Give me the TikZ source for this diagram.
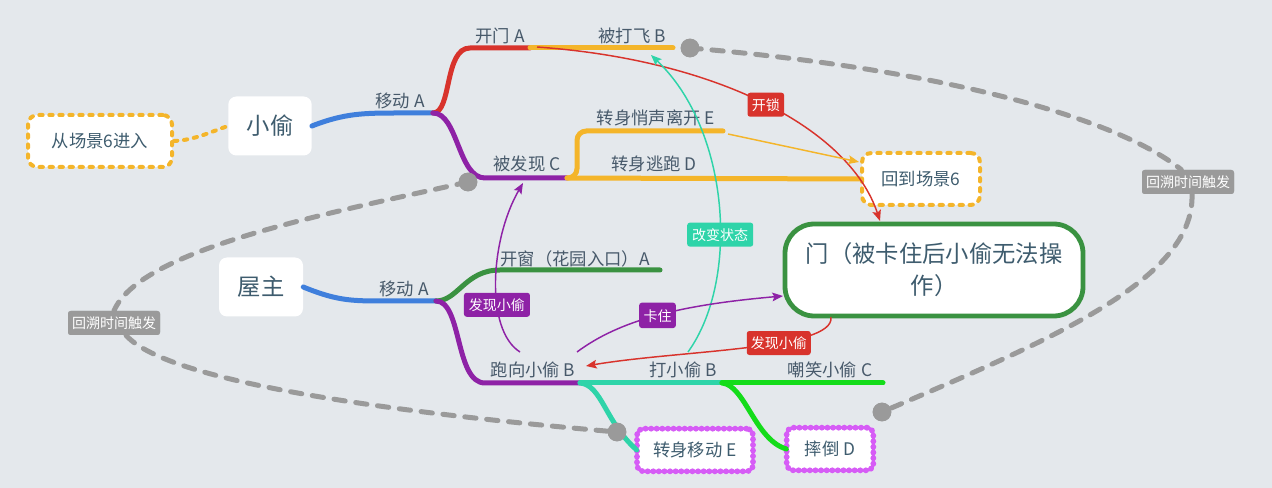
\documentclass[tikz,border=0pt]{standalone}
\usepackage{fontspec}
\setmainfont{Noto Sans CJK SC}
\usetikzlibrary{decorations.pathmorphing,arrows.meta}
\definecolor{bgc}{HTML}{E4E8EC}
\definecolor{txt}{HTML}{47596A}
\definecolor{nodetxt}{HTML}{3E5C6E}
\definecolor{tblue}{HTML}{3F7FDC}
\definecolor{tred}{HTML}{D8332C}
\definecolor{tpurple}{HTML}{8E22A6}
\definecolor{tyel}{HTML}{F4B52A}
\definecolor{tgray}{HTML}{9A9A9A}
\definecolor{tgreen}{HTML}{3A9241}
\definecolor{tteal}{HTML}{2ED4A9}
\definecolor{tlime}{HTML}{14DC1A}
\definecolor{twavy}{HTML}{D65CF6}
\newcommand{\lblfont}{\fontsize{13}{15}\selectfont}
\newcommand{\bigfont}{\fontsize{17.5}{24}\selectfont}
\newcommand{\tagfont}{\fontsize{10.5}{12}\selectfont}
\tikzset{
  lbl/.style={font=\lblfont, text=txt, inner sep=0pt},
  mainbox/.style={fill=white, rounded corners=6pt, minimum width=62.5pt, minimum height=44.25pt, font=\bigfont, text=nodetxt, inner sep=0pt},
  yelbox/.style={fill=white, draw=tyel, line width=3pt, dash pattern=on 2.5pt off 5pt, line cap=round, rounded corners=7pt, minimum height=39pt, font=\lblfont, text=nodetxt, inner sep=0pt},
  doorbox/.style={fill=white, draw=tgreen, line width=3.6pt, rounded corners=22pt, minimum width=223.5pt, minimum height=69pt, font=\bigfont, text=nodetxt, align=center, inner sep=0pt},
  wavybox/.style={fill=white, font=\lblfont, text=nodetxt, inner sep=0pt, rounded corners=5pt,
    postaction={draw=twavy, line width=2.2pt},
    postaction={draw=twavy, line width=4.4pt, line cap=round, dash pattern=on 0pt off 4.2pt}},
  branch/.style={draw=#1, line width=3.75pt, line cap=round},
  tag/.style={fill=#1, text=white, rounded corners=2pt, font=\tagfont, inner sep=0pt, minimum height=18pt, minimum width=27.5pt, text depth=0pt},
  thinarrow/.style={draw=#1, line width=1.1pt, -{Stealth[length=8pt,width=6.5pt,inset=1.5pt]}},
  gdash/.style={draw=tgray, line width=3.75pt, line cap=round, dash pattern=on 8.5pt off 8pt},
  gdot/.style={circle, fill=tgray, minimum size=14pt, inner sep=0pt},
}
\begin{document}
\begin{tikzpicture}[x=0.75pt,y=-0.75pt]
\fill[bgc] (0,0) rectangle (1272,488);
\useasboundingbox (0,0) rectangle (1272,488);

% main nodes
\node[mainbox] (thief) at (270,126) {小偷};
\node[yelbox, minimum width=108pt] (enter) at (100,141) {从场景6进入};
\node[mainbox, minimum width=63pt] (owner) at (261,287) {屋主};
\node[doorbox] (door) at (934,270) {门（被卡住后小偷无法操\\作）};
\node[yelbox, minimum width=88.5pt] (back) at (921,179) {回到场景6};
\node[wavybox, minimum width=87pt, minimum height=32pt] (turn) at (695,450) {转身移动 E};
\node[wavybox, minimum width=65pt, minimum height=32pt] (fall) at (830,449) {摔倒 D};

% junction coordinates
\coordinate (j1) at (433,113);
\coordinate (j2) at (436,301);
\coordinate (redEnd) at (530,48);
\coordinate (flyEnd) at (673,48);
\coordinate (foundEnd) at (567,178);
\coordinate (eEnd) at (723,131);
\coordinate (winEnd) at (660,270);
\coordinate (runEnd) at (580,383);
\coordinate (hitEnd) at (722,383);
\coordinate (mockEnd) at (883,383);

% dashed yellow connector
\draw[draw=tyel, line width=3pt, dash pattern=on 2.5pt off 5pt, line cap=round] (enter.east) .. controls (195,140) and (210,132) .. (thief.west);

% thief branches
\draw[branch=tblue] (thief.east) .. controls (345,113) and (365,113) .. (400,113) -- (j1);
\draw[branch=tred] (j1) .. controls (452,113) and (444,48) .. (470,48) -- (redEnd);
\draw[branch=tyel] (redEnd) -- (flyEnd);
\draw[branch=tpurple] (j1) .. controls (458,113) and (458,178) .. (485,178) -- (foundEnd);
\draw[branch=tyel, rounded corners=7pt] (foundEnd) -- (577,178) -- (577,131) -- (eEnd);
\draw[branch=tyel] (foundEnd) -- (back.west);

% owner branches
\draw[branch=tblue] (owner.east) .. controls (335,300) and (350,301) .. (380,301) -- (j2);
\draw[branch=tgreen] (j2) .. controls (458,301) and (465,270) .. (500,270) -- (winEnd);
\draw[branch=tpurple] (j2) .. controls (462,301) and (455,383) .. (485,383) -- (runEnd);
\draw[branch=tteal] (runEnd) -- (hitEnd);
\draw[branch=tlime] (hitEnd) -- (mockEnd);
\draw[branch=tteal] (runEnd) .. controls (602,385) and (605,422) .. (turn.west);
\draw[branch=tlime] (hitEnd) .. controls (745,385) and (755,440) .. (fall.west);

% branch labels
\node[lbl] (lmove1) at (400,101) {移动 A};
\node[lbl] (lopen) at (500,36) {开门 A};
\node[lbl] (lfly) at (632,36) {被打飞 B};
\node[lbl] (lfound) at (527,164) {被发现 C};
\node[lbl] (lquiet) at (656,118) {转身悄声离开 E};
\node[lbl] (lflee) at (654,164) {转身逃跑 D};
\node[lbl] (lmove2) at (404,289) {移动 A};
\node[lbl] (lwin) at (575,259) {开窗（花园入口）A};
\node[lbl] (lrun) at (533,370) {跑向小偷 B};
\node[lbl] (lhit) at (683,370) {打小偷 B};
\node[lbl] (lmock) at (830,370) {嘲笑小偷 C};

% gray dots
\node[gdot] (c1) at (690,48) {};
\node[gdot] (c2) at (468,182) {};
\node[gdot] (c3) at (617,432) {};
\node[gdot] (c4) at (882,412) {};

% gray dashed time loops
\node[tag=tgray, minimum width=69pt] (rt) at (1188,182) {回溯时间触发};
\node[tag=tgray, minimum width=69pt] (lt) at (114,323) {回溯时间触发};
\draw[gdash] (c1.center) .. controls (950,70) and (1120,120) .. ([xshift=-5pt]rt.north);
\draw[gdash] ([xshift=3pt]rt.south) .. controls (1195,280) and (1050,340) .. (c4.center);
\draw[gdash] (c2.center) .. controls (320,215) and (140,250) .. (lt.north);
\draw[gdash] ([xshift=9pt]lt.south) .. controls (170,385) and (420,415) .. (c3.center);
\node[gdot] at (c1) {};
\node[gdot] at (c2) {};
\node[gdot] at (c3) {};
\node[gdot] at (c4) {};
\node[tag=tgray, minimum width=69pt] at (rt) {回溯时间触发};
\node[tag=tgray, minimum width=69pt] at (lt) {回溯时间触发};

% arrows
\coordinate (unlockStart) at (537,47);
\coordinate (doorTop) at (880,221);
\draw[thinarrow=tred] (unlockStart) .. controls (720,60) and (850,130) .. (doorTop)
  node[pos=0.5, tag=tred] (tunlock) {开锁};

\coordinate (quietStart) at (728,134);
\coordinate (backTip) at (859,162);
\draw[thinarrow=tyel] (quietStart) -- (backTip);

\coordinate (hitStart) at (688,352);
\coordinate (flyTip) at (651,55);
\draw[thinarrow=tteal] (hitStart) .. controls (740,280) and (730,130) .. (flyTip)
  node[pos=0.41, tag=tteal, minimum width=49.5pt] (tchange) {改变状态};

\coordinate (runStart1) at (520,352);
\coordinate (foundTip) at (523,183);
\draw[thinarrow=tpurple] (runStart1) .. controls (485,330) and (490,240) .. (foundTip)
  node[pos=0.37, tag=tpurple, minimum width=49.5pt] (tfound1) {发现小偷};

\coordinate (runStart2) at (577,352);
\coordinate (doorLeft) at (783,296);
\draw[thinarrow=tpurple] (runStart2) .. controls (620,320) and (680,305) .. (doorLeft)
  node[pos=0.5, tag=tpurple, minimum height=19pt] (tstuck) {卡住};

\coordinate (doorBottom) at (831,317);
\coordinate (runTip) at (586,366);
\draw[thinarrow=tred] (doorBottom) .. controls (835,350) and (680,350) .. (runTip)
  node[pos=0.38, tag=tred, minimum width=48pt] (tfound2) {发现小偷};
\end{tikzpicture}
\end{document}
